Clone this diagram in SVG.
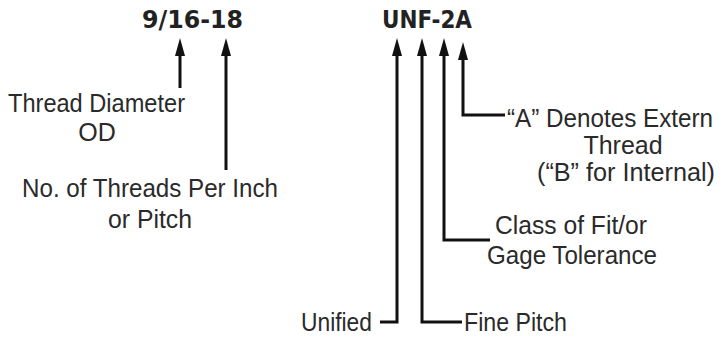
<svg xmlns="http://www.w3.org/2000/svg" width="722" height="337" viewBox="0 0 722 337">
<style>
.t{font-family:"Liberation Sans Narrow","Liberation Sans",Arial,sans-serif;font-size:25px;fill:#2a2a2a}
.h{font-family:"DejaVu Sans","Liberation Sans",sans-serif;font-weight:bold;font-size:25px;fill:#222}
.c{fill:none;stroke:#111;stroke-width:3}
</style>
<defs>
<marker id="ah" viewBox="0 0 18 10" refX="10" refY="5" markerWidth="18" markerHeight="10" markerUnits="userSpaceOnUse" orient="auto">
<path d="M0,0 L18,5 L0,10 z" fill="#111"/>
</marker>
</defs>
<rect width="722" height="337" fill="#fff"/>
<g id="title1"><text class="h" x="142" y="28" textLength="101" lengthAdjust="spacingAndGlyphs">9/16-18</text></g>
<g id="title2"><text class="h" x="382" y="28" textLength="90" lengthAdjust="spacingAndGlyphs">UNF-2A</text></g>
<g id="connectors">
<path class="c" d="M180,88 V46" marker-end="url(#ah)"/>
<path class="c" d="M226,170 V46" marker-end="url(#ah)"/>
<path class="c" d="M380,322 H397 V46" marker-end="url(#ah)"/>
<path class="c" d="M462,322 H422 V46" marker-end="url(#ah)"/>
<path class="c" d="M490,240 H444 V46" marker-end="url(#ah)"/>
<path class="c" d="M505,115 H463 V50" marker-end="url(#ah)"/>
</g>
<g id="n-diameter">
<text class="t" x="8" y="112" textLength="177" lengthAdjust="spacingAndGlyphs">Thread Diameter</text>
<text class="t" x="97" y="141" text-anchor="middle">OD</text>
</g>
<g id="n-tpi">
<text class="t" x="22" y="197" textLength="256" lengthAdjust="spacingAndGlyphs">No. of Threads Per Inch</text>
<text class="t" x="108" y="228" textLength="84" lengthAdjust="spacingAndGlyphs">or Pitch</text>
</g>
<g id="n-extern">
<text class="t" x="507" y="127" textLength="206" lengthAdjust="spacingAndGlyphs">“A” Denotes Extern</text>
<text class="t" x="623" y="154" text-anchor="middle">Thread</text>
<text class="t" x="537" y="181" textLength="178" lengthAdjust="spacingAndGlyphs">(“B” for Internal)</text>
</g>
<g id="n-class">
<text class="t" x="495" y="234" textLength="152" lengthAdjust="spacingAndGlyphs">Class of Fit/or</text>
<text class="t" x="487" y="264" textLength="170" lengthAdjust="spacingAndGlyphs">Gage Tolerance</text>
</g>
<g id="n-unified"><text class="t" x="301" y="331" textLength="71" lengthAdjust="spacingAndGlyphs">Unified</text></g>
<g id="n-fine"><text class="t" x="464" y="331" textLength="103" lengthAdjust="spacingAndGlyphs">Fine Pitch</text></g>
</svg>
